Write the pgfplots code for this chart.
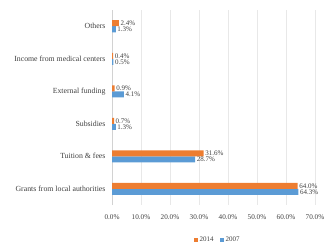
\documentclass[border=0pt]{standalone}
\usepackage{pgfplots}
\pgfplotsset{compat=1.18}
\usepackage{fontspec}
\setmainfont{Liberation Serif}
\definecolor{c2014}{HTML}{ED7D31}
\definecolor{c2007}{HTML}{5B9BD5}
\begin{document}
\begin{tikzpicture}
\begin{axis}[
  name=ax,
  scale only axis,
  width=203pt, height=195pt,
  xbar=0pt, bar width=6pt,
  xmin=0, xmax=70,
  ymin=-0.5, ymax=5.5,
  xtick={0,10,...,70},
  xticklabel={\pgfmathprintnumber[fixed,fixed zerofill,precision=1]{\tick}\%},
  /pgf/number format/assume math mode=true,
  ytick={0,1,2,3,4,5},
  yticklabels={Grants from local authorities,Tuition \& fees,Subsidies,External funding,Income from medical centers,Others},
  yticklabel style={font=\fontsize{7.8}{9}\selectfont, text=black!75, xshift=-3pt},
  xticklabel style={font=\fontsize{7.2}{8}\selectfont, text=black!75, yshift=-6pt},
  xmajorgrids, grid style={gray!18},
  axis lines*=left,
  x axis line style={draw=none},
  y axis line style={gray!35},
  major tick length=0pt,
  xtick style={draw=none}, ytick style={draw=none},
  nodes near coords={\pgfmathprintnumber[fixed,fixed zerofill,precision=1]{\pgfplotspointmeta}\%},
  every node near coord/.append style={font=\fontsize{7}{7}\selectfont, text=black!75, inner sep=1.5pt},
  legend style={draw=none, at={(0.52,-0.14)}, anchor=north, legend columns=2, font=\fontsize{7}{8}\selectfont, text=black!75, /tikz/every even column/.append style={column sep=4pt}},
  legend image code/.code={\fill[#1] (0pt,-2pt) rectangle (4pt,2pt);},
  reverse legend,
]
\addplot[fill=c2007, draw=none] coordinates {(64.3,0) (28.7,1) (1.3,2) (4.1,3) (0.5,4) (1.3,5)};
\addplot[fill=c2014, draw=none] coordinates {(64.0,0) (31.6,1) (0.7,2) (0.9,3) (0.4,4) (2.4,5)};
\legend{2007,2014}
\end{axis}
\pgfresetboundingbox
\path ([xshift=-112pt,yshift=-41pt]ax.south west) rectangle ([xshift=12pt,yshift=10pt]ax.north east);
\end{tikzpicture}
\end{document}
